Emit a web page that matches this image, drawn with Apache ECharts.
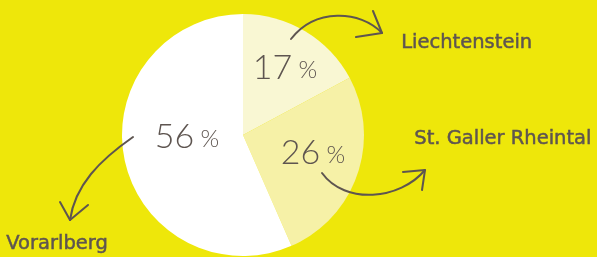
<!DOCTYPE html>
<html>
<head>
<meta charset="utf-8">
<script src="https://cdn.jsdelivr.net/npm/echarts@6/dist/echarts.min.js"></script>
<style>
  html, body { margin: 0; padding: 0; background: #eee70a; }
  #chart { width: 597px; height: 257px; }
</style>
</head>
<body>
<div id="chart"></div>
<script>
// values
const regions = ['Liechtenstein', 'St. Galler Rheintal', 'Vorarlberg'];
const shares = [17, 26, 56];
const sliceColors = ['#f9f7d3', '#f6f1a7', '#ffffff'];

// where the percent labels sit
const labelPos = [[285, 68], [313, 153], [187, 137]];

const ink = '#5e5550';

const chart = echarts.init(document.getElementById('chart'));

const arrowStyle = { stroke: ink, lineWidth: 2, fill: null, lineCap: 'round', lineJoin: 'round' };
// a thin outline to make the names look medium weight
const nameStyle = text => ({ text: text, fill: ink, stroke: ink, lineWidth: 0.5, font: '19.5px "DejaVu Sans"' });

chart.setOption({
  backgroundColor: '#eee70a',
  animation: false,
  series: [
    {
      type: 'pie',
      center: [243, 135],
      radius: [0, 121],
      startAngle: 90,
      clockwise: true,
      silent: true,
      z: 1,
      data: regions.map((name, i) => ({
        name: name,
        value: shares[i],
        itemStyle: { color: sliceColors[i] }
      })),
      label: {
        show: true,
        position: 'inside',
        formatter: p => '{n|' + p.value + '}{p| %}',
        rich: {
          n: { fontFamily: 'Lato', fontWeight: 300, fontSize: 34, color: ink },
          p: { fontFamily: 'Lato', fontWeight: 300, fontSize: 24, color: ink, padding: [5, 0, 0, 0] }
        }
      },
      labelLayout: p => ({ x: labelPos[p.dataIndex][0], y: labelPos[p.dataIndex][1], align: 'center', verticalAlign: 'middle' }),
      labelLine: { show: false }
    }
  ],
  graphic: {
    elements: [
      // region names
      { type: 'text', z: 100, left: 401, top: 33, style: nameStyle(regions[0]) },
      { type: 'text', z: 100, left: 414, top: 129, style: nameStyle(regions[1]) },
      { type: 'text', z: 100, left: 6, top: 234, style: nameStyle(regions[2]) },
      // arrow to Liechtenstein
      { type: 'bezierCurve', z: 100, shape: { x1: 291, y1: 39, cpx1: 315, cpy1: 8, cpx2: 360, cpy2: 10, x2: 382, y2: 33 }, style: arrowStyle },
      { type: 'polyline', z: 100, shape: { points: [[373, 11], [382, 33], [356, 37]] }, style: arrowStyle },
      // arrow to St. Galler Rheintal
      { type: 'bezierCurve', z: 100, shape: { x1: 322, y1: 173, cpx1: 345, cpy1: 205, cpx2: 400, cpy2: 200, x2: 425, y2: 170 }, style: arrowStyle },
      { type: 'polyline', z: 100, shape: { points: [[403, 172], [425, 170], [422, 190]] }, style: arrowStyle },
      // arrow to Vorarlberg
      { type: 'bezierCurve', z: 100, shape: { x1: 133, y1: 137, cpx1: 100, cpy1: 160, cpx2: 75, cpy2: 185, x2: 70, y2: 220 }, style: arrowStyle },
      { type: 'polyline', z: 100, shape: { points: [[60, 202], [70, 220], [88, 205]] }, style: arrowStyle }
    ]
  }
});
</script>
</body>
</html>
